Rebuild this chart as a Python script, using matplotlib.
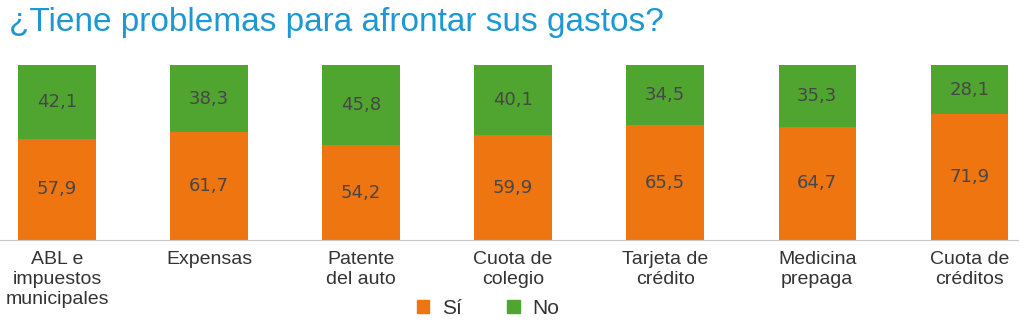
import matplotlib
matplotlib.use("Agg")
import matplotlib.pyplot as plt
from matplotlib.patches import Patch

# Datos
categorias = ["ABL e\nimpuestos\nmunicipales", "Expensas", "Patente\ndel auto",
              "Cuota de\ncolegio", "Tarjeta de\ncrédito", "Medicina\nprepaga",
              "Cuota de\ncréditos"]
si = [57.9, 61.7, 54.2, 59.9, 65.5, 64.7, 71.9]
no = [42.1, 38.3, 45.8, 40.1, 34.5, 35.3, 28.1]

naranja = "#ef7510"
verde = "#4fa52f"
texto = "#474747"

plt.rcParams["font.family"] = ["Liberation Sans", "DejaVu Sans"]

fig = plt.figure(figsize=(10.25, 3.25), dpi=100)
ax = fig.add_axes([0.0, 0.2615, 1018 / 1025, 0.5385])

x = list(range(len(categorias)))
ax.bar(x, si, width=0.51, color=naranja)
ax.bar(x, no, width=0.51, bottom=si, color=verde)

# Etiquetas de valores
for i in x:
    ax.text(i, si[i] / 2, "{:.1f}".format(si[i]).replace(".", ","),
            ha="center", va="center", fontsize=13, color=texto,
            family="DejaVu Sans")
    ax.text(i, si[i] + no[i] / 2, "{:.1f}".format(no[i]).replace(".", ","),
            ha="center", va="center", fontsize=13, color=texto,
            family="DejaVu Sans")

ax.set_xlim(-0.375, 6.32)
ax.set_ylim(0, 100)
ax.set_xticks(x)
ax.set_xticklabels(categorias, fontsize=14, color="#333333", linespacing=1.22)
ax.tick_params(axis="x", length=0, pad=8)
ax.set_yticks([])
for s in ["top", "right", "left"]:
    ax.spines[s].set_visible(False)
ax.spines["bottom"].set_color("#c8c8c8")

fig.text(0.009, 0.93, "¿Tiene problemas para afrontar sus gastos?",
         fontsize=24, color="#1d98d3", ha="left", va="center")

handles = [Patch(color=naranja, label="Sí"), Patch(color=verde, label="No")]
fig.legend(handles=handles, loc="center", bbox_to_anchor=(0.476, 0.052), ncol=2,
           frameon=False, fontsize=15, handlelength=0.6, handleheight=0.6,
           handletextpad=0.6, columnspacing=2.2, labelcolor="#333333")

fig.savefig("out.png", dpi=100)
